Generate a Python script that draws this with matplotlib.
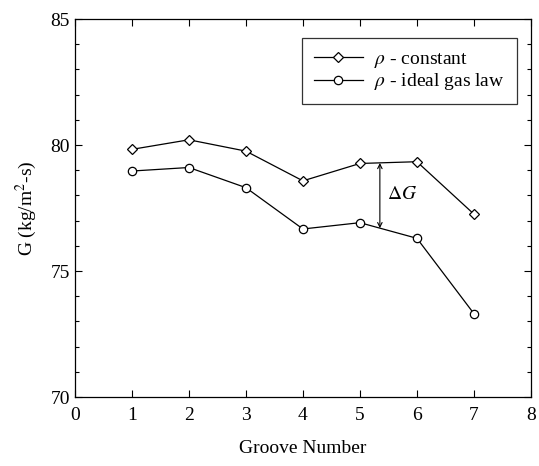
import matplotlib.pyplot as plt
import numpy as np

plt.rcParams['font.family'] = ['Liberation Serif', 'DejaVu Serif']
plt.rcParams['mathtext.fontset'] = 'stix'

grooves = [1, 2, 3, 4, 5, 6, 7]
g_constant = [79.83, 80.21, 79.76, 78.58, 79.27, 79.34, 77.26]
g_ideal = [78.97, 79.11, 78.31, 76.67, 76.92, 76.30, 73.31]

# delta G arrow position and ends
dg_x = 5.35
dg_top = 79.29
dg_bottom = 76.70

fig = plt.figure(figsize=(5.39, 4.66), dpi=100)
ax = fig.add_axes([0.139, 0.148, 0.846, 0.811])

ax.plot(grooves, g_constant, color='black', lw=0.9, marker='D', ms=5,
        mfc='white', mec='black', mew=0.9, label=r'$\rho$ - constant')
ax.plot(grooves, g_ideal, color='black', lw=0.9, marker='o', ms=6,
        mfc='white', mec='black', mew=0.9, label=r'$\rho$ - ideal gas law')

ax.annotate('', xy=(dg_x, dg_top), xytext=(dg_x, dg_bottom),
            arrowprops=dict(arrowstyle='<->', color='black', lw=0.8,
                            shrinkA=0, shrinkB=0, mutation_scale=8))
ax.text(dg_x + 0.12, (dg_top + dg_bottom) / 2 + 0.05, r'$\Delta G$',
        fontsize=14, va='center', ha='left')

ax.set_xlim(0, 8)
ax.set_ylim(70, 85)
ax.set_xticks(np.arange(0, 9, 1))
ax.set_yticks([70, 75, 80, 85])
ax.set_yticks(np.arange(70, 86, 1), minor=True)
ax.tick_params(which='both', direction='in', top=True, right=True,
               labelsize=14, width=0.8)
ax.tick_params(which='major', length=5)
ax.tick_params(which='minor', length=3)
ax.tick_params(axis='x', pad=7)
for s in ax.spines.values():
    s.set_linewidth(0.9)

ax.set_xlabel('Groove Number', fontsize=14, labelpad=12)
ax.set_ylabel('G (kg/m$^2$-s)', fontsize=14, labelpad=8)

leg = ax.legend(loc='upper right', bbox_to_anchor=(0.99, 0.975), fontsize=14,
                handlelength=2.5, frameon=True, fancybox=False, edgecolor='black',
                borderpad=0.6, labelspacing=0.1, handletextpad=0.6)
leg.get_frame().set_linewidth(0.9)

fig.savefig('out.png', dpi=100)
